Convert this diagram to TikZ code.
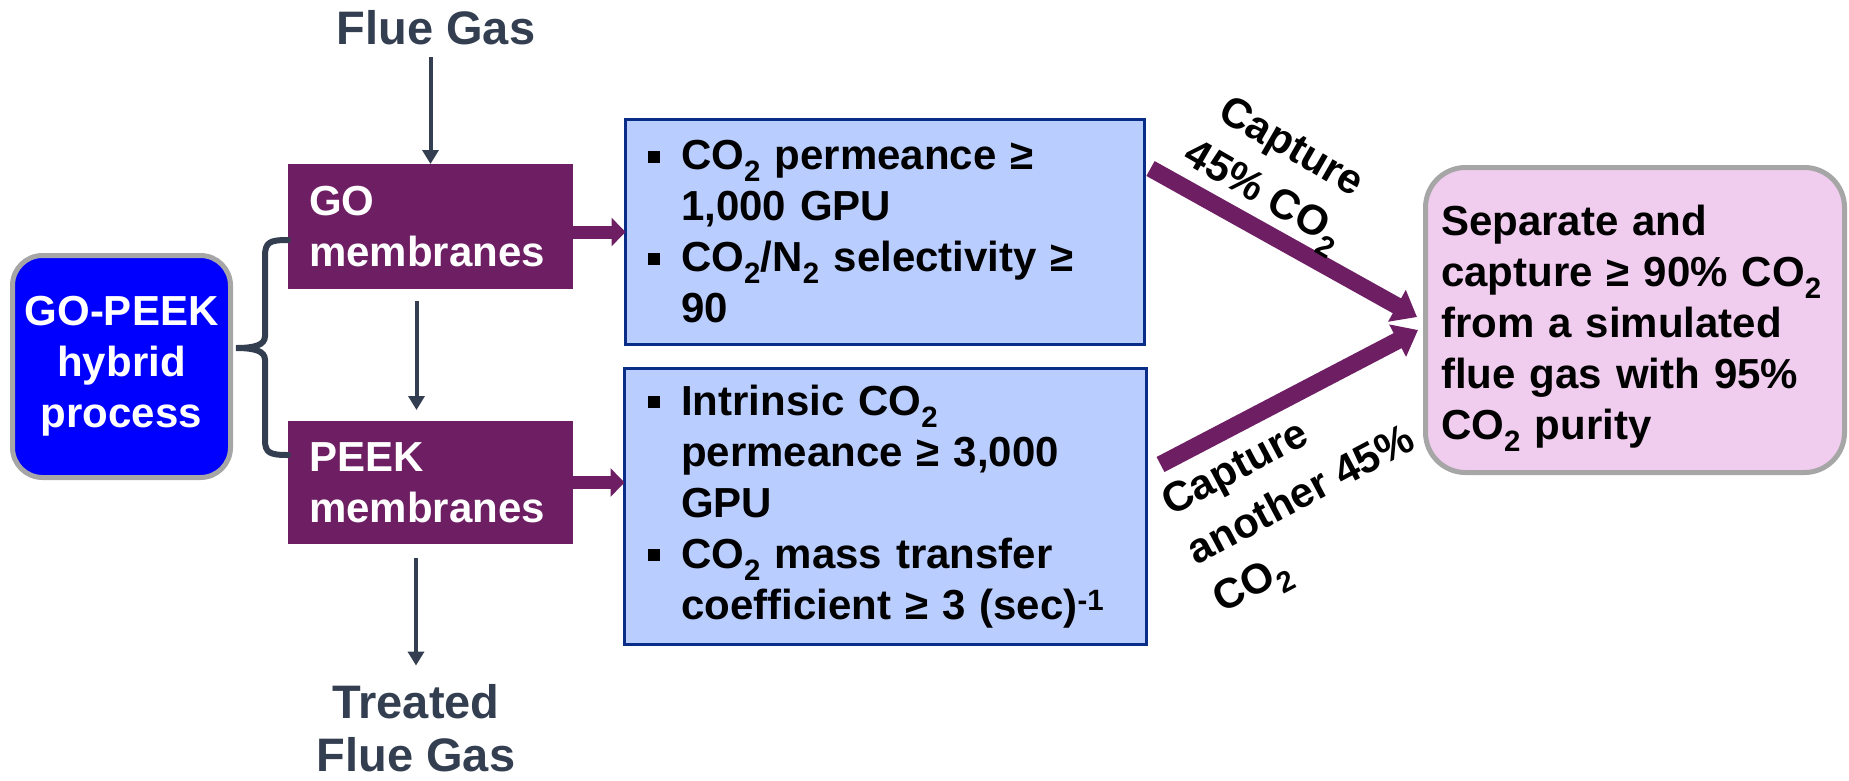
\documentclass[tikz,border=0pt]{standalone}
\usepackage{fontspec}
\setmainfont{Liberation Sans}
\usetikzlibrary{arrows.meta,calc}

\definecolor{slate}{RGB}{51,63,80}
\definecolor{plum}{RGB}{110,30,99}
\definecolor{pureblue}{RGB}{0,0,255}
\definecolor{rimgray}{RGB}{166,166,166}
\definecolor{paleblue}{RGB}{186,205,255}
\definecolor{boxnavy}{RGB}{10,45,135}
\definecolor{pinkfill}{RGB}{240,204,238}

\newcommand{\bodyfont}{\fontsize{42pt}{51pt}\selectfont\bfseries}
\newcommand{\labelfont}{\fontsize{42pt}{55pt}\selectfont\bfseries}
\newcommand{\fluefont}{\fontsize{47pt}{53pt}\selectfont\bfseries}
\newcommand{\bitem}{\makebox[33pt][l]{\raisebox{7pt}{\rule{12pt}{12pt}}}}
\newcommand{\bcont}{\hspace*{33pt}}

\begin{document}
\begin{tikzpicture}[x=1pt,y=-1pt,
  membox/.style={fill=plum, text=white, font=\bodyfont, align=left,
    inner sep=0pt, outer sep=0pt, minimum width=285pt, text width=243pt},
  goalbox/.style={fill=paleblue, draw=boxnavy, line width=3pt, font=\bodyfont,
    align=left, inner sep=0pt, outer sep=0pt},
  flowtext/.style={font=\fluefont, text=slate, inner sep=0pt, align=center},
  darrow/.style={draw=slate, line width=4pt, -{Triangle[length=14pt,width=16pt]}},
  parrow/.style={draw=plum, line width=13pt, -{Triangle[length=14pt,width=28pt]}},
  bigarrow/.style={draw=plum, line width=17pt, -{Triangle[length=23pt,width=35pt]}},
  sidelabel/.style={font=\labelfont, inner sep=0pt}]

\useasboundingbox (0,0) rectangle (1849,780);

% process overview box
\node[fill=pureblue, draw=rimgray, line width=5pt, rounded corners=30pt,
  minimum width=218pt, minimum height=222pt, text=white, font=\bodyfont,
  align=center, inner sep=0pt] (hyb) at (121.5,366.5) {GO-PEEK\\hybrid\\process};

% membrane stages
\node[membox, minimum height=125pt] (go) at (430.5,226.5) {GO\\membranes};
\node[membox, minimum height=123pt] (peek) at (430.5,482.5) {PEEK\\membranes};

% feed and product streams
\node[flowtext] (fg) at (436,28) {Flue Gas};
\node[flowtext] (tf) at (416,728.5) {Treated\\Flue Gas};

\draw[darrow, shorten <=12pt] (fg.south -| go.north) -- (go.north);
\draw[darrow, shorten <=12pt, shorten >=11pt] ([xshift=-14pt]go.south) -- ([xshift=-14pt]peek.north);
\draw[darrow, shorten <=14pt, shorten >=19pt] (peek.south -| tf.north) -- (tf.north);

% brace grouping the two stages
\draw[slate, line width=6pt, line cap=round]
  (288,240) .. controls (270,240) and (265,242) .. (265,256) -- (265,336)
  .. controls (265,345) and (255,348) .. (236,348)
  .. controls (255,348) and (265,351) .. (265,360) -- (265,440)
  .. controls (265,453) and (270,455) .. (288,455);

% performance targets
\node[goalbox, minimum width=519pt, minimum height=225pt, text width=474pt] (b1) at (885,232)
  {\bitem CO\textsubscript{2} permeance ≥\\
   \bcont 1,000 GPU\\
   \bitem CO\textsubscript{2}/N\textsubscript{2} selectivity ≥\\
   \bcont 90};
\node[goalbox, minimum width=522pt, minimum height=276pt, text width=475pt] (b2) at (885.5,506.5)
  {\bitem Intrinsic CO\textsubscript{2}\\
   \bcont permeance ≥ 3,000\\
   \bcont GPU\\
   \bitem CO\textsubscript{2} mass transfer\\
   \bcont coefficient ≥ 3 (sec)\textsuperscript{-1}};

\draw[parrow] (go.east |- b1.west) -- (b1.west);
\draw[parrow] (peek.east) -- (peek.east -| b2.west);

% overall goal
\node[fill=pinkfill, draw=rimgray, line width=5pt, rounded corners=40pt,
  minimum width=419pt, minimum height=305pt, inner sep=0pt] (pk) at (1635,320) {};
\node[font=\bodyfont, align=left, text width=388pt, inner sep=0pt] (pkt) at (1635,328)
  {Separate and\\
   capture ≥ 90\% CO\textsubscript{2}\\
   from a simulated\\
   flue gas with 95\%\\
   CO\textsubscript{2} purity};

\draw[bigarrow] ($(b1.north east)+(6,49)$) -- ($(pk.west)+(-6,-3)$);
\draw[bigarrow] ($(b2.north east)+(14,96)$) -- ($(pk.west)+(-5,10)$);

\node[sidelabel, align=center, rotate=-30] (l1) at (1276,174) {Capture\\45\% CO\textsubscript{2}};
\node[sidelabel, align=left, rotate=28] (l2) at (1303,499) {Capture\\another 45\%\\CO\textsubscript{2}};

\end{tikzpicture}
\end{document}
